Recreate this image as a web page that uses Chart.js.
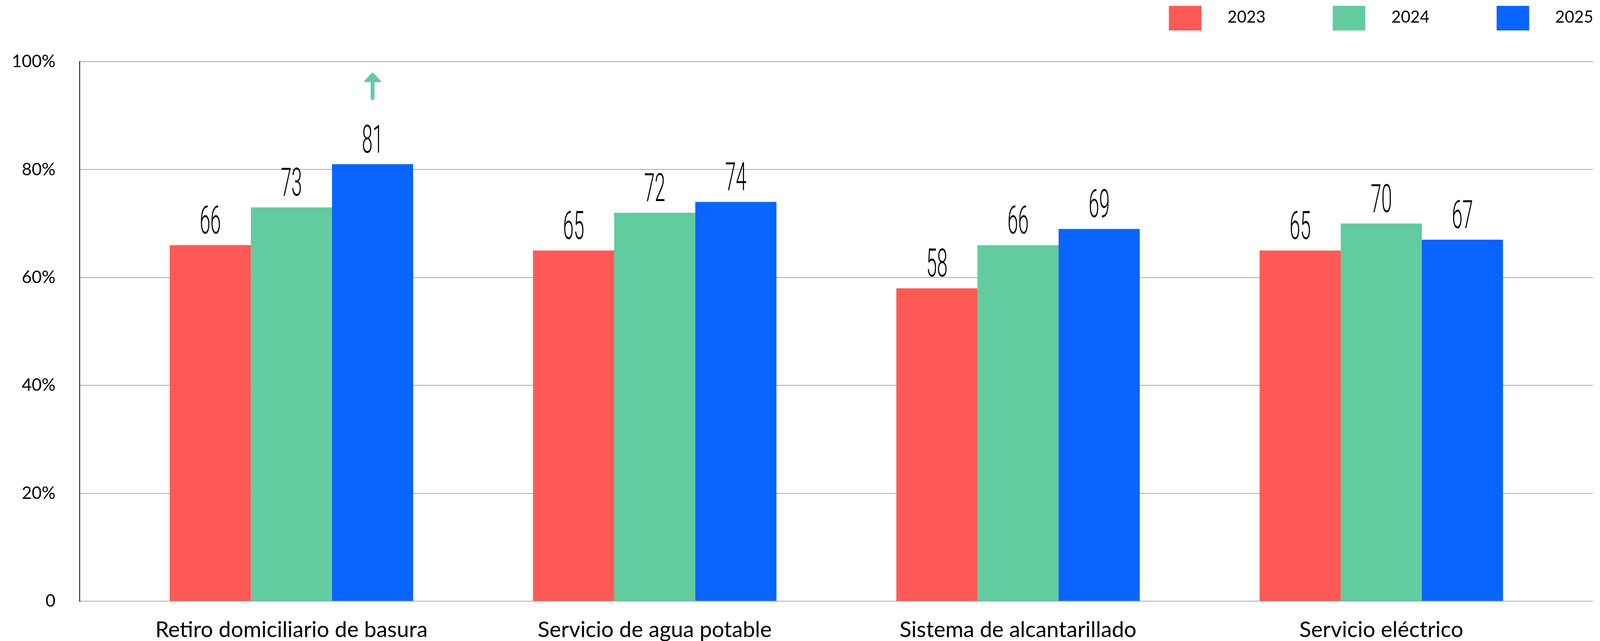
<!DOCTYPE html>
<html lang="es">
<head>
<meta charset="utf-8">
<title>Servicios</title>
<script src="https://cdn.jsdelivr.net/npm/chart.js@4.4.1/dist/chart.umd.min.js"></script>
<style>
  html, body { margin: 0; padding: 0; background: #fff; overflow: hidden; }
  canvas { display: block; }
</style>
</head>
<body>
<canvas id="grafico"></canvas>
<script>
const categorias = ['Retiro domiciliario de basura', 'Servicio de agua potable', 'Sistema de alcantarillado', 'Servicio eléctrico'];
const anios = ['2023', '2024', '2025'];
const valores2023 = [66, 65, 58, 65];
const valores2024 = [73, 72, 66, 70];
const valores2025 = [81, 74, 69, 67];
const ticksY = [0, 20, 40, 60, 80, 100];
const colores = ['#FF5A55', '#62CBA0', '#0A64FF'];
const flecha = { serie: 2, categoria: 0 };

const fuente = 'Lato';

// el diseño original es de 4179 px de ancho; se ajusta al ancho real de la ventana
const ancho = window.innerWidth || 4179;
const alto = window.innerHeight || 1642;
const kx = ancho / 4179;
const ky = alto / 1642;

// etiquetas de valor sobre cada barra (fuente angosta)
const etiquetasValor = {
    id: 'etiquetasValor',
    afterDatasetsDraw(chart) {
        const ctx = chart.ctx;
        ctx.save();
        ctx.fillStyle = '#000';
        ctx.font = '300 ' + Math.round(100 * ky) + 'px Roboto';
        ctx.textAlign = 'center';
        ctx.textBaseline = 'alphabetic';
        chart.data.datasets.forEach((ds, i) => {
            chart.getDatasetMeta(i).data.forEach((barra, j) => {
                ctx.save();
                ctx.translate(barra.x, barra.y - 30 * ky);
                ctx.scale(0.5 * kx, 1);
                ctx.fillText(ds.data[j].y, 0, 0);
                ctx.restore();
            });
        });
        ctx.restore();
    }
};

const flechaPlugin = {
    id: 'flecha',
    afterDatasetsDraw(chart) {
        const barra = chart.getDatasetMeta(flecha.serie).data[flecha.categoria];
        const ctx = chart.ctx;
        const x = barra.x, y = barra.y;
        ctx.save();
        ctx.strokeStyle = colores[1];
        ctx.fillStyle = colores[1];
        ctx.lineWidth = 10 * kx;
        ctx.lineCap = 'round';
        ctx.beginPath();
        ctx.moveTo(x, y - 169 * ky);
        ctx.lineTo(x, y - 215 * ky);
        ctx.stroke();
        ctx.lineJoin = 'round';
        ctx.lineWidth = 4;
        ctx.beginPath();
        ctx.moveTo(x - 20 * kx, y - 212 * ky);
        ctx.lineTo(x, y - 233 * ky);
        ctx.lineTo(x + 20 * kx, y - 212 * ky);
        ctx.closePath();
        ctx.fill();
        ctx.stroke();
        ctx.restore();
    }
};

const leyenda = {
    id: 'leyenda',
    afterDraw(chart) {
        const ctx = chart.ctx;
        ctx.save();
        ctx.font = '42px ' + fuente;
        ctx.textBaseline = 'alphabetic';
        ctx.textAlign = 'left';
        chart.data.datasets.forEach((ds, i) => {
            const x = (3053 + i * 428) * kx;
            ctx.fillStyle = ds.backgroundColor;
            ctx.fillRect(x, 15 * ky, 85 * kx, 63 * ky);
            ctx.fillStyle = '#000';
            ctx.fillText(ds.label, x + 153 * kx, 58 * ky);
        });
        ctx.restore();
    }
};

function serie(valores) {
    return valores.map((v, i) => ({ x: i, y: v }));
}

function dibujar() {
    const canvas = document.getElementById('grafico');
    canvas.width = ancho;
    canvas.height = alto;
    new Chart(canvas, {
        type: 'bar',
        data: {
            datasets: [
                { label: anios[0], data: serie(valores2023), backgroundColor: colores[0] },
                { label: anios[1], data: serie(valores2024), backgroundColor: colores[1] },
                { label: anios[2], data: serie(valores2025), backgroundColor: colores[2] }
            ]
        },
        options: {
            responsive: false,
            devicePixelRatio: 1,
            animation: false,
            layout: { padding: { top: 158 * ky, right: 18 * kx, left: 0, bottom: 0 } },
            datasets: {
                bar: { categoryPercentage: 0.67, barPercentage: 1, borderWidth: 0 }
            },
            scales: {
                x: {
                    type: 'linear',
                    min: -0.583,
                    max: 3.583,
                    offset: false,
                    grid: { display: false, drawTicks: false },
                    border: { display: false },
                    afterBuildTicks: s => { s.ticks = categorias.map((c, i) => ({ value: i })); },
                    afterFit: s => { s.height = 102 * ky; },
                    ticks: {
                        autoSkip: false,
                        maxRotation: 0,
                        padding: 40 * ky,
                        color: '#000',
                        font: { family: fuente, size: 56 },
                        callback: v => categorias[v] ?? ''
                    }
                },
                y: {
                    min: 0,
                    max: 100,
                    grid: { color: '#A8A8A8', lineWidth: 2, drawTicks: false },
                    border: { display: true, color: '#000', width: 2 },
                    afterBuildTicks: s => { s.ticks = ticksY.map(v => ({ value: v })); },
                    afterFit: s => { s.width = 208 * kx; },
                    ticks: {
                        padding: 63 * kx,
                        color: '#000',
                        font: { family: fuente, size: 44 },
                        callback: v => v === 0 ? '0' : v + '%'
                    }
                }
            },
            plugins: {
                legend: { display: false },
                tooltip: { enabled: false }
            }
        },
        plugins: [etiquetasValor, flechaPlugin, leyenda]
    });
}

Promise.all([
    document.fonts.load('42px ' + fuente),
    document.fonts.load('300 100px Roboto')
]).then(dibujar, dibujar);
</script>
</body>
</html>
